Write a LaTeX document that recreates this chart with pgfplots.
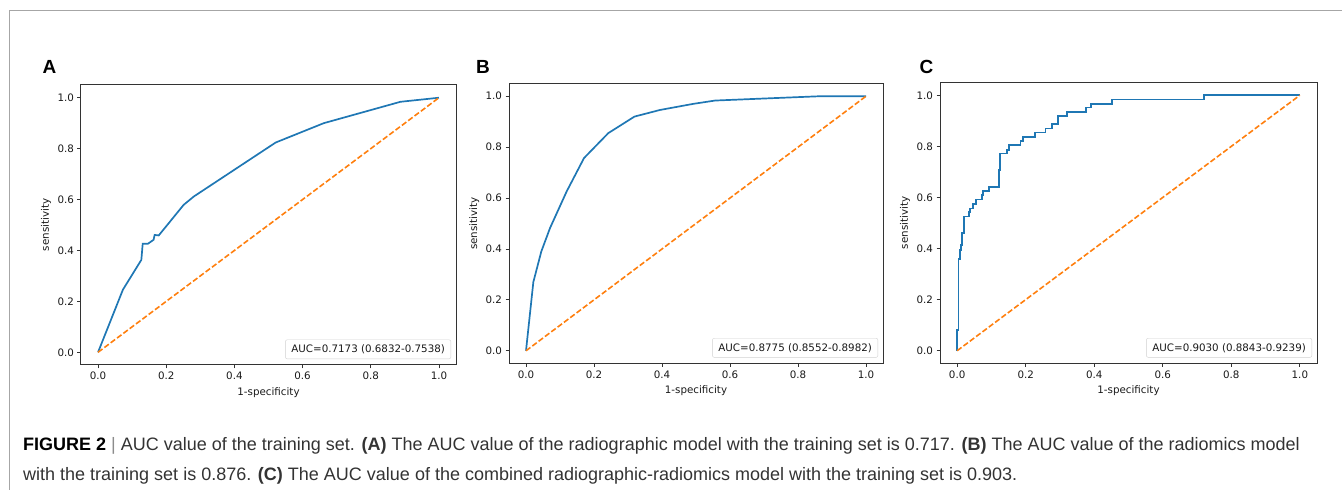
\documentclass[border=0pt]{standalone}
\usepackage{pgfplots}
\pgfplotsset{compat=1.18}
\usepackage{fontspec}
\setmainfont{Liberation Sans}
\newfontfamily\dejavu{DejaVu Sans}
\definecolor{mplblue}{HTML}{1F77B4}
\definecolor{mplorange}{HTML}{FF7F0E}
\definecolor{spine}{HTML}{333333}
\definecolor{captext}{HTML}{333333}

\pgfplotsset{
  rocax/.style={
    scale only axis,
    anchor=south west,
    xmin=-0.05, xmax=1.05, ymin=-0.05, ymax=1.05,
    xtick={0,0.2,0.4,0.6,0.8,1.0},
    ytick={0,0.2,0.4,0.6,0.8,1.0},
    tick pos=left, tick align=outside,
    major tick length=3.5pt,
    every tick/.style={spine, line width=0.9pt},
    axis line style={spine, line width=1pt},
    /pgf/number format/assume math mode=true,
    ticklabel style={font=\dejavu\fontsize{10.3}{11}\selectfont, color=black!90,
      /pgf/number format/.cd, fixed, fixed zerofill, precision=1},
    xlabel={1-specificity}, ylabel={sensitivity},
    label style={font=\dejavu\fontsize{10.3}{11}\selectfont, color=black!90},
    xlabel style={at={(axis description cs:0.5,-0.097)}, anchor=center},
    ylabel style={at={(axis description cs:-0.093,0.5)}, anchor=center, rotate=0},
  },
  roc/.style={mplblue, line width=1.7pt},
  diag/.style={mplorange, line width=1.6pt, dash pattern=on 5.5pt off 2.4pt},
}
\tikzset{
  auc/.style={draw=black!18, fill=white, rounded corners=2pt, anchor=south east,
    font=\dejavu\fontsize{10.3}{11}\selectfont, inner xsep=6pt, inner ysep=5pt, text=black!90},
}

\begin{document}
\begin{tikzpicture}
\path[use as bounding box] (0pt,0pt) rectangle (1342pt,490pt);
\draw[black!35, line width=1pt] (9pt,0pt) -- (9pt,479.5pt) -- (1342pt,479.5pt);

% panel A
\node[anchor=base west, font=\bfseries\fontsize{19}{19}\selectfont] at (39pt,416pt) {A};
\begin{axis}[rocax, at={(81pt,125pt)}, width=375pt, height=280pt]
\addplot[roc] coordinates {(0,0) (0.073,0.246) (0.127,0.363) (0.131,0.426) (0.146,0.426)
  (0.163,0.442) (0.166,0.461) (0.178,0.459) (0.203,0.50) (0.251,0.579) (0.281,0.612)
  (0.521,0.824) (0.662,0.90) (0.887,0.984) (1,1)};
\addplot[diag] coordinates {(0,0) (1,1)};
\node[auc] at (rel axis cs:0.987,0.021) {AUC=0.7173 (0.6832-0.7538)};
\end{axis}

% panel B
\node[anchor=base west, font=\bfseries\fontsize{19}{19}\selectfont] at (472.5pt,416pt) {B};
\begin{axis}[rocax, at={(509pt,126.5pt)}, width=374pt, height=280pt]
\addplot[roc] coordinates {(0,0) (0.0216,0.27) (0.045,0.39) (0.0706,0.482) (0.1196,0.626)
  (0.1706,0.757) (0.242,0.855) (0.319,0.920) (0.394,0.946) (0.492,0.970) (0.556,0.983)
  (0.70,0.991) (0.865,1.0) (1,1)};
\addplot[diag] coordinates {(0,0) (1,1)};
\node[auc] at (rel axis cs:0.987,0.021) {AUC=0.8775 (0.8552-0.8982)};
\end{axis}

% panel C
\node[anchor=base west, font=\bfseries\fontsize{19}{19}\selectfont] at (916pt,416pt) {C};
\begin{axis}[rocax, at={(940pt,126.5pt)}, width=377pt, height=281pt]
\addplot[roc, const plot] coordinates {(0,0) (0,0.082) (0.004,0.359) (0.008,0.395)
  (0.012,0.414) (0.015,0.46) (0.021,0.525) (0.034,0.544) (0.037,0.557) (0.046,0.575)
  (0.056,0.592) (0.073,0.609) (0.076,0.625) (0.092,0.642) (0.122,0.707) (0.125,0.772)
  (0.146,0.785) (0.151,0.805) (0.185,0.82) (0.193,0.837) (0.228,0.854) (0.258,0.87)
  (0.277,0.887) (0.294,0.92) (0.321,0.935) (0.375,0.952) (0.391,0.967) (0.452,0.984)
  (0.72,1.0) (1.0,1.0)};
\addplot[diag] coordinates {(0,0) (1,1)};
\node[auc] at (rel axis cs:0.987,0.021) {AUC=0.9030 (0.8843-0.9239)};
\end{axis}

% caption
\node[anchor=base west, inner sep=0pt, text=captext, font=\fontsize{18}{30}\selectfont] at (23pt,39pt)
  {\textcolor{black}{\textbf{FIGURE 2}}\ \textcolor{black!45}{|}\ AUC value of the training set. \textbf{(A)} The AUC value of the radiographic model with the training set is 0.717. \textbf{(B)} The AUC value of the radiomics model};
\node[anchor=base west, inner sep=0pt, text=captext, font=\fontsize{18}{30}\selectfont] at (23pt,9pt)
  {with the training set is 0.876. \textbf{(C)} The AUC value of the combined radiographic-radiomics model with the training set is 0.903.};
\end{tikzpicture}
\end{document}
